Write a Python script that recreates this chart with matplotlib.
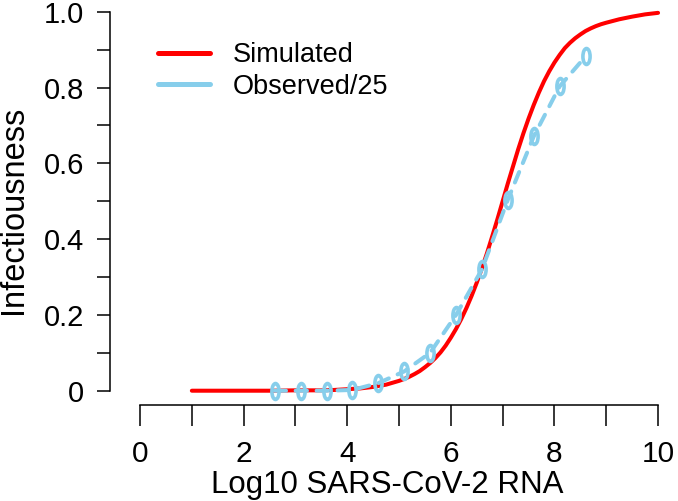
import numpy as np
import matplotlib
matplotlib.use("Agg")
import matplotlib.pyplot as plt
from matplotlib.path import Path
from matplotlib.transforms import Affine2D
from matplotlib.lines import Line2D

plt.rcParams['font.family'] = ['Liberation Sans', 'DejaVu Sans']

# ---- data ----
sim_x = [1.0, 1.5, 2.0, 2.5, 3.0, 3.25, 3.5, 3.75, 4.0, 4.25, 4.5, 4.75,
         5.0, 5.1, 5.2, 5.3, 5.4, 5.5, 5.6, 5.7, 5.8, 5.9,
         6.0, 6.1, 6.2, 6.3, 6.4, 6.5, 6.6, 6.7, 6.8, 6.9,
         7.0, 7.1, 7.2, 7.3, 7.4, 7.5, 7.6, 7.7, 7.8, 7.9,
         8.0, 8.1, 8.2, 8.3, 8.4, 8.5, 8.6, 8.7, 8.8, 8.9,
         9.0, 9.25, 9.5, 9.75, 10.0]
sim_y = [0.000, 0.000, 0.000, 0.000, 0.001, 0.001, 0.001, 0.002, 0.004, 0.006, 0.010, 0.016,
         0.026, 0.031, 0.037, 0.044, 0.052, 0.062, 0.073, 0.086, 0.101, 0.119,
         0.140, 0.163, 0.189, 0.218, 0.250, 0.285, 0.323, 0.364, 0.408, 0.453,
         0.500, 0.547, 0.592, 0.637, 0.679, 0.718, 0.754, 0.787, 0.817, 0.843,
         0.866, 0.886, 0.904, 0.918, 0.930, 0.940, 0.949, 0.956, 0.962, 0.967,
         0.971, 0.980, 0.987, 0.993, 0.997]

obs_x = [2.6, 3.1, 3.6, 4.1, 4.6, 5.1, 5.6, 6.1, 6.6, 7.1, 7.6, 8.1, 8.6]
obs_y = [0.0, 0.0, 0.0, 0.002, 0.02, 0.051, 0.1, 0.2, 0.32, 0.504, 0.671, 0.803, 0.882]

x_ticks = [0, 1, 2, 3, 4, 5, 6, 7, 8, 9, 10]
x_ticklabels = ['0', '', '2', '', '4', '', '6', '', '8', '', '10']
y_ticks = [0, 0.1, 0.2, 0.3, 0.4, 0.5, 0.6, 0.7, 0.8, 0.9, 1.0]
y_ticklabels = ['0', '', '0.2', '', '0.4', '', '0.6', '', '0.8', '', '1.0']

labels = ['Simulated', 'Observed/25']
RED = '#FF0000'
BLUE = '#87CEEB'

W, H = 678, 501
fig = plt.figure(figsize=(W / 100, H / 100), dpi=100)
ax = fig.add_axes([110 / W, (H - 405) / H, 563.6 / W, 405 / H])
ax.set_xlim(-0.58, 10.3)
ax.set_ylim(-0.0377, 1.0309)

ax.plot(sim_x, sim_y, color=RED, lw=2.9, solid_capstyle='round',
        solid_joinstyle='round', clip_on=False, zorder=3)

ell = Path.unit_circle().transformed(Affine2D().scale(0.45, 1.0))
ax.plot(obs_x, obs_y, color=BLUE, lw=2.9, dashes=(2.8, 2.4), dash_capstyle='round',
        marker=ell, markersize=11.5, markerfacecolor='none', markeredgecolor=BLUE,
        markeredgewidth=2.6, clip_on=False, zorder=4)

for s in ['top', 'right']:
    ax.spines[s].set_visible(False)
ax.spines['left'].set_bounds(0, 1)
ax.spines['bottom'].set_bounds(0, 10)
for s in ['left', 'bottom']:
    ax.spines[s].set_linewidth(1.1)

ax.set_xticks(x_ticks)
ax.set_xticklabels(x_ticklabels)
ax.set_yticks(y_ticks)
ax.set_yticklabels(y_ticklabels)
ax.tick_params(axis='x', length=15, width=1.1, pad=10.3, labelsize=21.5)
ax.tick_params(axis='y', length=9.4, width=1.1, pad=9, labelsize=21)

ax.text(0.4924, -0.2173, 'Log10 SARS-CoV-2 RNA', transform=ax.transAxes,
        ha='center', va='baseline', fontsize=22.5)
fig.text(14 / W, 1 - 210 / H, 'Infectiousness', rotation=90, ha='center', va='center',
         fontsize=23.5)

handles = [Line2D([], [], color=RED, lw=3.6, solid_capstyle='round'),
           Line2D([], [], color=BLUE, lw=3.6, solid_capstyle='round')]
leg = fig.legend(handles, labels, loc='upper left', bbox_to_anchor=(158 / W, 1 - 42 / H),
                 frameon=False, fontsize=19.5, handlelength=1.92, handletextpad=0.85,
                 labelspacing=0.22, borderpad=0, borderaxespad=0)

fig.savefig('out.png', dpi=100)
